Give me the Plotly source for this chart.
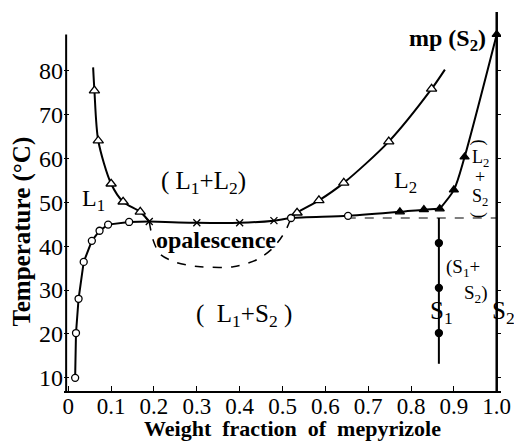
import plotly.graph_objects as go

# --- measured data -------------------------------------------------------
# L1 solubility curve (open circles)
l1_x = [0.016, 0.018, 0.024, 0.036, 0.055, 0.073, 0.093, 0.142]
l1_t = [10.0, 20.2, 28.0, 36.4, 41.2, 43.5, 44.9, 45.5]

# three-phase line (crosses)
x3_x = [0.189, 0.30, 0.40, 0.48]
x3_t = [45.6, 45.3, 45.3, 45.8]

# L2 solubility / liquidus (open circles then filled triangles)
l2c_x = [0.52, 0.653]
l2c_t = [46.4, 46.9]
liq_x = [0.774, 0.83, 0.867, 0.90, 0.925, 1.0]
liq_t = [47.8, 48.3, 48.5, 52.8, 60.3, 88.2]

# L1+L2 miscibility gap (open triangles)
gapL_x = [0.061, 0.070, 0.100, 0.128, 0.168]
gapL_t = [75.4, 64.0, 54.2, 50.1, 47.8]
gapR_x = [0.534, 0.585, 0.643, 0.748, 0.848]
gapR_t = [47.6, 50.4, 54.4, 63.8, 75.8]
gapL_top = (0.058, 80.7)
gapR_top = (0.879, 80.2)

# opalescence boundary (dashed)
opal_x = [0.189, 0.198, 0.214, 0.254, 0.308, 0.385, 0.44, 0.478, 0.506, 0.52]
opal_t = [45.6, 41.4, 38.2, 36.2, 35.3, 35.3, 36.9, 39.6, 43.3, 46.4]

# eutectic-level dashed line
eut_x = [0.65, 1.0]
eut_t = [46.4, 46.4]

# S1 solid phase (filled circles)
s1_x = 0.865
s1_t = [40.7, 30.5, 20.2]
s1_line_t = [46.4, 13.2]

x_ticks = [0, 0.1, 0.2, 0.3, 0.4, 0.5, 0.6, 0.7, 0.8, 0.9, 1.0]
x_labels = ["0", "0.1", "0.2", "0.3", "0.4", "0.5", "0.6", "0.7", "0.8", "0.9", "1.0"]
y_ticks = [10, 20, 30, 40, 50, 60, 70, 80]

SERIF = "Liberation Serif"
BLK = "black"
SP = "\u00a0"

fig = go.Figure()

def line(x, y, dash="solid", shape="spline", width=2):
    fig.add_trace(go.Scatter(x=x, y=y, mode="lines", line=dict(color=BLK, width=width,
                             dash=dash, shape=shape, smoothing=0.8),
                             hoverinfo="skip", showlegend=False))

def marks(x, y, symbol, size, fill="white"):
    fig.add_trace(go.Scatter(x=x, y=y, mode="markers",
                             marker=dict(symbol=symbol, size=size, color=fill,
                                         line=dict(color=BLK, width=1.3)),
                             showlegend=False))

# curves
line(l1_x + [x3_x[0]], l1_t + [x3_t[0]], shape="linear")
line(x3_x + l2c_x + liq_x[:3], x3_t + l2c_t + liq_t[:3])
line(liq_x[2:], liq_t[2:])
line([gapL_top[0]] + gapL_x + [x3_x[0]], [gapL_top[1]] + gapL_t + [x3_t[0]])
line([l2c_x[0]] + gapR_x + [gapR_top[0]], [l2c_t[0]] + gapR_t + [gapR_top[1]])
line(opal_x, opal_t, dash="dash", width=1.5)
line(eut_x, eut_t, dash="dash", shape="linear", width=1.2)
line([s1_x, s1_x], s1_line_t, shape="linear")

# markers
marks(l1_x + l2c_x, l1_t + l2c_t, "circle", 7)
marks(x3_x, x3_t, "x-thin", 7)
marks(gapL_x + gapR_x, gapL_t + gapR_t, "triangle-up", 9)
marks(liq_x, liq_t, "triangle-up", 8, fill=BLK)
marks([s1_x] * len(s1_t), s1_t, "circle", 7, fill=BLK)

# axis frame: left and right vertical lines
fig.add_shape(type="line", xref="x", yref="y", x0=-0.005, x1=-0.005, y0=7, y1=88.2,
              line=dict(color=BLK, width=2))
fig.add_shape(type="line", xref="x", yref="y", x0=1.0, x1=1.0, y0=7, y1=93.3,
              line=dict(color=BLK, width=2.5))

def label(x, y, text, size=22, bold=True, angle=0, xref="x"):
    t = f"<b>{text}</b>" if bold else text
    fig.add_annotation(x=x, y=y, xref=xref, yref="y", text=t, showarrow=False,
                       xanchor="center", yanchor="middle",
                       textangle=angle, font=dict(family=SERIF, size=size, color=BLK))

label(0.885, 87.0, f"mp{SP}(S<sub>2</sub>)", 24)
label(0.058, 50.5, "L<sub>1</sub>", 24, bold=False)
label(0.315, 54.4, f"({SP}L<sub>1</sub>+L<sub>2</sub>)", 25, bold=False)
label(0.788, 54.6, "L<sub>2</sub>", 24, bold=False)
label(0.345, 41.4, "opalescence", 24)
label(0.41, 24.1, f"({SP}{SP}L<sub>1</sub>+S<sub>2</sub>{SP})", 25, bold=False)
label(0.921, 35.0, "(S<sub>1</sub>+", 19, bold=False)
label(0.952, 29.2, "S<sub>2</sub>)", 19, bold=False)
label(0.872, 24.8, "S<sub>1</sub>", 25, bold=False)
label(1.006, 24.8, "S<sub>2</sub>", 25, bold=False, xref="paper")
label(0.961, 59.9, "L<sub>2</sub>", 18, bold=False)
label(0.961, 55.8, "+", 18, bold=False)
label(0.961, 51.0, "S<sub>2</sub>", 18, bold=False)
label(0.961, 63.6, "(", 18, bold=False, angle=90)
label(0.961, 47.0, ")", 18, bold=False, angle=90)

# axis titles
fig.add_annotation(xref="paper", yref="y", x=0, y=43.3, xshift=-42, text="<b>Temperature (°C)</b>",
                   textangle=-90, showarrow=False, xanchor="center", yanchor="middle",
                   font=dict(family=SERIF, size=25, color=BLK))
fig.add_annotation(xref="paper", yref="paper", x=0.522, y=0, yshift=-37,
                   text=f"<b>Weight{SP}{SP}fraction{SP}{SP}of{SP}{SP}mepyrizole</b>",
                   showarrow=False, xanchor="center", yanchor="middle",
                   font=dict(family=SERIF, size=22, color=BLK))

fig.update_layout(
    width=514, height=441,
    margin=dict(l=64, r=13, t=9, b=50),
    paper_bgcolor="white", plot_bgcolor="white",
    font=dict(family=SERIF, color=BLK),
    xaxis=dict(range=[-0.01, 1.01], tickvals=x_ticks, ticktext=x_labels, automargin=False,
               ticks="inside", ticklen=5, tickwidth=1.2, tickcolor=BLK, ticklabelstandoff=-7,
               showline=True, linecolor=BLK, linewidth=2, showgrid=False, zeroline=False,
               tickfont=dict(family=SERIF, size=23, color=BLK)),
    yaxis=dict(range=[7, 94], tickvals=y_ticks, ticks="inside", ticklen=5, tickwidth=1.2,
               tickcolor=BLK, showline=False, showgrid=False, zeroline=False, automargin=False,
               tickfont=dict(family=SERIF, size=24, color=BLK),
               tickprefix="<b>", ticksuffix="</b>"),
    yaxis2=dict(range=[7, 94], overlaying="y", side="right", tickvals=y_ticks,
                ticks="inside", ticklen=5, tickwidth=1.2, tickcolor=BLK, automargin=False,
                showticklabels=False, showgrid=False, zeroline=False, showline=False),
)
# empty trace that activates the right-hand tick axis
fig.add_trace(go.Scatter(x=[None], y=[None], yaxis="y2", showlegend=False))

fig.write_html("out.html")
